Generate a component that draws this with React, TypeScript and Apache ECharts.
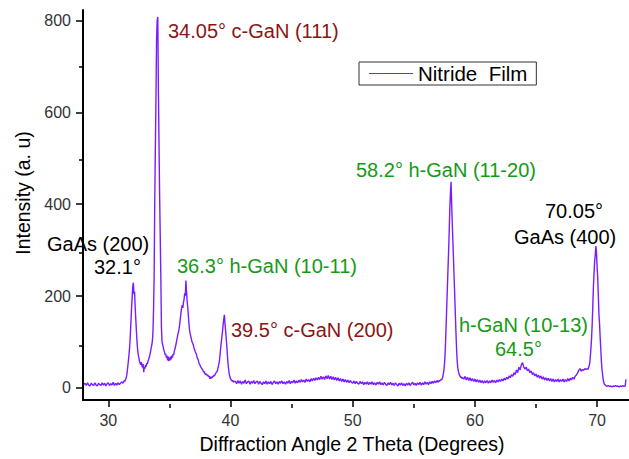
import React, { useEffect, useRef } from "react";
import * as echarts from "echarts";

// ---- data: [2θ (deg), intensity (a.u.)] ----
const scanLow: [number, number][] = [
  [28.0, 7], [28.1, 10], [28.2, 5], [28.3, 11], [28.4, 6], [28.5, 4], [28.6, 10], [28.7, 7], [28.8, 5], [28.9, 11],
  [29.0, 6], [29.1, 4], [29.2, 10], [29.3, 7], [29.4, 5], [29.5, 11], [29.6, 6], [29.7, 10], [29.8, 4], [29.9, 9],
  [30.0, 11], [30.1, 5], [30.2, 9], [30.3, 6], [30.4, 12], [30.5, 5], [30.6, 10], [30.7, 6], [30.8, 11], [30.9, 7],
  [31.0, 10], [31.1, 13], [31.2, 10],
];

const scanGaAsCubic: [number, number][] = [
  [31.25, 13], [31.3, 16], [31.35, 14], [31.4, 17], [31.45, 20], [31.5, 26], [31.55, 36], [31.6, 48], [31.65, 60],
  [31.7, 74], [31.75, 90], [31.8, 114], [31.85, 142], [31.9, 172], [31.95, 196], [32.0, 220], [32.05, 229],
  [32.1, 204], [32.15, 210], [32.2, 176], [32.25, 150], [32.3, 124], [32.35, 100], [32.4, 84], [32.45, 72],
  [32.5, 66], [32.55, 58], [32.6, 54], [32.65, 50], [32.7, 56], [32.75, 48], [32.8, 44], [32.85, 52], [32.9, 34],
  [32.95, 46], [33.0, 42], [33.05, 50], [33.1, 46], [33.15, 54], [33.2, 52], [33.25, 58], [33.3, 62], [33.35, 66],
  [33.4, 72], [33.45, 78], [33.5, 86], [33.55, 92], [33.6, 100], [33.65, 118], [33.7, 165], [33.75, 240],
  [33.8, 400], [33.85, 520], [33.9, 630], [33.95, 760], [34.0, 800], [34.05, 808], [34.1, 650], [34.15, 530],
  [34.2, 420], [34.25, 330], [34.3, 240], [34.35, 130], [34.4, 100], [34.45, 94], [34.5, 88], [34.55, 82],
  [34.6, 78], [34.65, 72], [34.7, 74], [34.75, 66], [34.8, 70], [34.85, 60], [34.9, 68], [34.95, 58], [35.0, 66],
  [35.05, 60], [35.1, 68], [35.15, 62], [35.2, 70], [35.25, 66], [35.3, 74], [35.35, 72], [35.4, 80], [35.45, 84],
  [35.5, 90], [35.55, 96], [35.6, 104], [35.65, 110], [35.7, 118], [35.75, 122], [35.8, 130], [35.85, 140],
  [35.9, 152], [35.95, 164], [36.0, 174], [36.05, 180], [36.1, 174], [36.15, 186], [36.2, 192], [36.25, 206],
  [36.3, 200], [36.35, 234], [36.4, 212], [36.45, 188], [36.5, 176], [36.55, 158], [36.6, 140], [36.65, 126],
  [36.7, 118], [36.75, 112], [36.8, 106], [36.85, 100], [36.9, 98], [36.95, 94], [37.0, 88], [37.05, 84],
  [37.1, 80], [37.15, 76], [37.2, 74], [37.25, 68], [37.3, 64], [37.35, 62], [37.4, 56], [37.45, 52], [37.5, 50],
  [37.55, 46], [37.6, 44], [37.65, 42], [37.7, 40], [37.75, 38], [37.8, 34], [37.85, 36], [37.9, 30], [37.95, 32],
  [38.0, 28], [38.05, 30], [38.1, 26], [38.15, 28], [38.2, 24], [38.25, 26], [38.3, 20], [38.35, 24], [38.4, 20],
  [38.45, 24], [38.5, 22], [38.55, 26], [38.6, 24], [38.65, 28], [38.7, 26], [38.75, 30], [38.8, 32], [38.85, 34],
  [38.9, 36], [38.95, 40], [39.0, 46], [39.05, 52], [39.1, 60], [39.15, 74], [39.2, 88], [39.25, 100], [39.3, 112],
  [39.35, 124], [39.4, 138], [39.45, 150], [39.5, 159], [39.55, 140], [39.6, 124], [39.65, 108], [39.7, 90],
  [39.75, 70], [39.8, 52], [39.85, 40], [39.9, 30], [39.95, 24], [40.0, 20], [40.05, 18], [40.1, 16], [40.15, 14],
  [40.2, 16], [40.25, 12], [40.3, 14],
];

const scanMid: [number, number][] = [
  [40.4, 14], [40.5, 9], [40.6, 16], [40.7, 10], [40.8, 15], [40.9, 8], [41.0, 14], [41.1, 10], [41.2, 17], [41.3, 9],
  [41.4, 13], [41.5, 15], [41.6, 8], [41.7, 14], [41.8, 10], [41.9, 16], [42.0, 9], [42.1, 13], [42.2, 15], [42.3, 8],
  [42.4, 14], [42.5, 10], [42.6, 7], [42.7, 13], [42.8, 9], [42.9, 15], [43.0, 8], [43.1, 13], [43.2, 9], [43.3, 14],
  [43.4, 7], [43.5, 12], [43.6, 15], [43.7, 9], [43.8, 13], [43.9, 8], [44.0, 14], [44.1, 10], [44.2, 15], [44.3, 9],
  [44.4, 13], [44.5, 8], [44.6, 14], [44.7, 10], [44.8, 16], [44.9, 9], [45.0, 14], [45.1, 11], [45.2, 17], [45.3, 10],
  [45.4, 15], [45.5, 11], [45.6, 17], [45.7, 12], [45.8, 18], [45.9, 13], [46.0, 17], [46.1, 12], [46.2, 19], [46.3, 14],
  [46.4, 18], [46.5, 13], [46.6, 20], [46.7, 15], [46.8, 21], [46.9, 16], [47.0, 22], [47.1, 17], [47.2, 23], [47.3, 18],
  [47.4, 25], [47.5, 19], [47.6, 24], [47.7, 18], [47.8, 26], [47.9, 20], [48.0, 27], [48.1, 19], [48.2, 25], [48.3, 18],
  [48.4, 24], [48.5, 17], [48.6, 23], [48.7, 16], [48.8, 22], [48.9, 15], [49.0, 20], [49.1, 14], [49.2, 19], [49.3, 13],
  [49.4, 18], [49.5, 12], [49.6, 17], [49.7, 11], [49.8, 16], [49.9, 12], [50.0, 10], [50.1, 15], [50.2, 9], [50.3, 14],
  [50.4, 10], [50.5, 8], [50.6, 14], [50.7, 9], [50.8, 13], [50.9, 7], [51.0, 12], [51.1, 8], [51.2, 13], [51.3, 7],
  [51.4, 12], [51.5, 8], [51.6, 13], [51.7, 7], [51.8, 11], [51.9, 6], [52.0, 12], [52.1, 8], [52.2, 13], [52.3, 7],
  [52.4, 11], [52.5, 6], [52.6, 12], [52.7, 8], [52.8, 5], [52.9, 11], [53.0, 7], [53.1, 12], [53.2, 6], [53.3, 10],
  [53.4, 5], [53.5, 11], [53.6, 7], [53.7, 4], [53.8, 10], [53.9, 6], [54.0, 11], [54.1, 5], [54.2, 9], [54.3, 4],
  [54.4, 10], [54.5, 6], [54.6, 11], [54.7, 5], [54.8, 9], [54.9, 12], [55.0, 6], [55.1, 10], [55.2, 5], [55.3, 11],
  [55.4, 7], [55.5, 12], [55.6, 6], [55.7, 11], [55.8, 7], [55.9, 13], [56.0, 8], [56.1, 12], [56.2, 7], [56.3, 13],
  [56.4, 9], [56.5, 14], [56.6, 10], [56.7, 15], [56.8, 11], [56.9, 16], [57.0, 12],
];

const scanHexagonal: [number, number][] = [
  [57.05, 16], [57.1, 14], [57.15, 17], [57.2, 16], [57.25, 19], [57.3, 18], [57.35, 22], [57.4, 28], [57.45, 36],
  [57.5, 48], [57.55, 68], [57.6, 100], [57.65, 140], [57.7, 180], [57.75, 220], [57.8, 260], [57.85, 300],
  [57.9, 345], [57.95, 392], [58.0, 425], [58.05, 449], [58.1, 400], [58.15, 356], [58.2, 318], [58.25, 280],
  [58.3, 240], [58.35, 200], [58.4, 160], [58.45, 120], [58.5, 85], [58.55, 58], [58.6, 44], [58.65, 36],
  [58.7, 30], [58.75, 27], [58.8, 25], [58.85, 22], [58.9, 24], [58.95, 20], [59.0, 22],
];

const scanHigh: [number, number][] = [
  [59.1, 19], [59.2, 25], [59.3, 17], [59.4, 23], [59.5, 16], [59.6, 22], [59.7, 15], [59.8, 20], [59.9, 14],
  [60.0, 19], [60.1, 13], [60.2, 18], [60.3, 12], [60.4, 17], [60.5, 11], [60.6, 16], [60.7, 10], [60.8, 15],
  [60.9, 11], [61.0, 16], [61.1, 10], [61.2, 15], [61.3, 11], [61.4, 17], [61.5, 12], [61.6, 16], [61.7, 11],
  [61.8, 17], [61.9, 13], [62.0, 18], [62.1, 14], [62.2, 19], [62.3, 15], [62.4, 21], [62.5, 17], [62.6, 23],
  [62.7, 19], [62.8, 26], [62.9, 22], [63.0, 29], [63.1, 25], [63.2, 33], [63.3, 29], [63.4, 39], [63.5, 33],
  [63.6, 45], [63.7, 39], [63.8, 50], [63.9, 55], [64.0, 45], [64.1, 41], [64.2, 45], [64.3, 37], [64.4, 41],
  [64.5, 33], [64.6, 37], [64.7, 29], [64.8, 33], [64.9, 26], [65.0, 30], [65.1, 23], [65.2, 28], [65.3, 21],
  [65.4, 26], [65.5, 19], [65.6, 24], [65.7, 17], [65.8, 22], [65.9, 16], [66.0, 21], [66.1, 15], [66.2, 20],
  [66.3, 14], [66.4, 19], [66.5, 13], [66.6, 18], [66.7, 14], [66.8, 19], [66.9, 13], [67.0, 18], [67.1, 14],
  [67.2, 19], [67.3, 13], [67.4, 18], [67.5, 14], [67.6, 20], [67.7, 15], [67.8, 21], [67.9, 17], [68.0, 23],
  [68.1, 19], [68.2, 25], [68.3, 28], [68.4, 32], [68.5, 38], [68.6, 42], [68.7, 36], [68.8, 40], [68.9, 38],
  [69.0, 42], [69.1, 40], [69.2, 42], [69.25, 40], [69.3, 44], [69.35, 48], [69.4, 54], [69.45, 70], [69.5, 88],
  [69.55, 110], [69.6, 140], [69.65, 180], [69.7, 222], [69.75, 250], [69.8, 275], [69.85, 290], [69.9, 309],
  [69.95, 295], [70.0, 262], [70.05, 240], [70.1, 200], [70.15, 160], [70.2, 140], [70.25, 110], [70.3, 85],
  [70.35, 58], [70.4, 40], [70.45, 28], [70.5, 18], [70.55, 11], [70.6, 8], [70.7, 5], [70.8, 3], [70.9, 5],
  [71.0, 3], [71.1, 4], [71.2, 2], [71.3, 4], [71.4, 3], [71.5, 5], [71.6, 3], [71.7, 4], [71.8, 2], [71.9, 4],
  [72.0, 3], [72.1, 5], [72.2, 3], [72.3, 4], [72.35, 17], [72.4, 18],
];

const xMajorTicks = [30, 40, 50, 60, 70];
const xMinorTicks = [35, 45, 55, 65];
const yMajorTicks = [0, 200, 400, 600, 800];
const yMinorTicks = [100, 300, 500, 700];

const seriesName = "Nitride  Film";
const xTitle = "Diffraction Angle 2 Theta (Degrees)";
const yTitle = "Intensity (a. u)";

const RED = "#8c1414";
const GREEN = "#169a16";
const BLACK = "#000000";
const LINE = "#7a1cff";
const FONT = '"Liberation Sans", Arial, sans-serif';

const annotations: { text: string; x: number; y: number; color: string }[] = [
  { text: "34.05° c-GaN (111)", x: 168, y: 31, color: RED },
  { text: "GaAs (200)", x: 47, y: 244, color: BLACK },
  { text: "32.1°", x: 94, y: 267, color: BLACK },
  { text: "36.3° h-GaN (10-11)", x: 177, y: 266, color: GREEN },
  { text: "39.5° c-GaN (200)", x: 231, y: 330, color: RED },
  { text: "58.2° h-GaN (11-20)", x: 356, y: 170, color: GREEN },
  { text: "70.05°", x: 545, y: 211, color: BLACK },
  { text: "GaAs (400)", x: 514, y: 237, color: BLACK },
  { text: "h-GaN (10-13)", x: 459, y: 325, color: GREEN },
  { text: "64.5°", x: 495, y: 349, color: GREEN },
];

const X_MIN = 27.93;
const X_MAX = 72.61;
const Y_MIN = -26.5;
const Y_MAX = 823.1;

export default function App() {
  const ref = useRef<HTMLDivElement>(null);

  useEffect(() => {
    if (!ref.current) return;
    const chart = echarts.init(ref.current, undefined, { renderer: "svg" });
    const scan = [...scanLow, ...scanGaAsCubic, ...scanMid, ...scanHexagonal, ...scanHigh];
    const gridBox = { left: 83, right: 0, top: 10, bottom: 55 };

    chart.setOption({
      animation: false,
      backgroundColor: "#ffffff",
      textStyle: { fontFamily: FONT },
      grid: [
        { ...gridBox, containLabel: false },
        { ...gridBox, containLabel: false },
      ],
      legend: {
        data: [seriesName],
        left: 359,
        top: 62,
        selectedMode: false,
        icon: "rect",
        itemWidth: 44,
        itemHeight: 1,
        borderColor: "#333",
        borderWidth: 1,
        borderRadius: 0,
        padding: [1, 9, 1, 10],
        textStyle: { fontSize: 20.5, color: "#000", fontFamily: FONT, lineHeight: 21 },
      },
      xAxis: [
        {
          type: "value",
          gridIndex: 0,
          min: X_MIN,
          max: X_MAX,
          name: xTitle,
          nameLocation: "middle",
          nameGap: 34,
          nameTextStyle: { fontSize: 19.5, color: "#000", fontFamily: FONT, padding: [0, 8, 0, 0] },
          axisLine: { show: true, onZero: false, lineStyle: { color: "#000", width: 2 } },
          axisTick: { show: true, customValues: xMajorTicks, length: 7, lineStyle: { color: "#000", width: 1.5 } },
          axisLabel: { customValues: xMajorTicks, fontSize: 16, color: "#333", margin: 12, fontFamily: FONT },
          splitLine: { show: false },
        },
        {
          type: "value",
          gridIndex: 1,
          min: X_MIN,
          max: X_MAX,
          axisLine: { show: false, onZero: false },
          axisTick: { show: true, customValues: xMinorTicks, length: 4, lineStyle: { color: "#000", width: 1.5 } },
          axisLabel: { show: false },
          splitLine: { show: false },
        },
      ],
      yAxis: [
        {
          type: "value",
          gridIndex: 0,
          min: Y_MIN,
          max: Y_MAX,
          name: yTitle,
          nameLocation: "middle",
          nameGap: 47,
          nameTextStyle: { fontSize: 19.5, color: "#000", fontFamily: FONT, padding: [0, 0, 0, 24] },
          axisLine: { show: true, onZero: false, lineStyle: { color: "#000", width: 2 } },
          axisTick: { show: true, customValues: yMajorTicks, length: 7, lineStyle: { color: "#000", width: 1.5 } },
          axisLabel: { customValues: yMajorTicks, fontSize: 16, color: "#333", margin: 12, fontFamily: FONT },
          splitLine: { show: false },
        },
        {
          type: "value",
          gridIndex: 1,
          min: Y_MIN,
          max: Y_MAX,
          axisLine: { show: false, onZero: false },
          axisTick: { show: true, customValues: yMinorTicks, length: 4, lineStyle: { color: "#000", width: 1.5 } },
          axisLabel: { show: false },
          splitLine: { show: false },
        },
      ],
      series: [
        {
          name: seriesName,
          type: "line",
          xAxisIndex: 0,
          yAxisIndex: 0,
          data: scan,
          showSymbol: false,
          symbol: "none",
          lineStyle: { color: LINE, width: 1.4 },
          itemStyle: { color: LINE },
          clip: true,
        },
      ],
      graphic: annotations.map((a) => ({
        type: "text",
        x: a.x,
        y: a.y,
        silent: true,
        style: {
          text: a.text,
          fill: a.color,
          fontSize: 20,
          fontFamily: FONT,
          align: "left",
          verticalAlign: "middle",
        },
      })),
    });

    return () => chart.dispose();
  }, []);

  return (
    <div
      ref={ref}
      style={{ position: "fixed", left: 0, top: 0, width: 629, height: 459, background: "#fff" }}
    />
  );
}
